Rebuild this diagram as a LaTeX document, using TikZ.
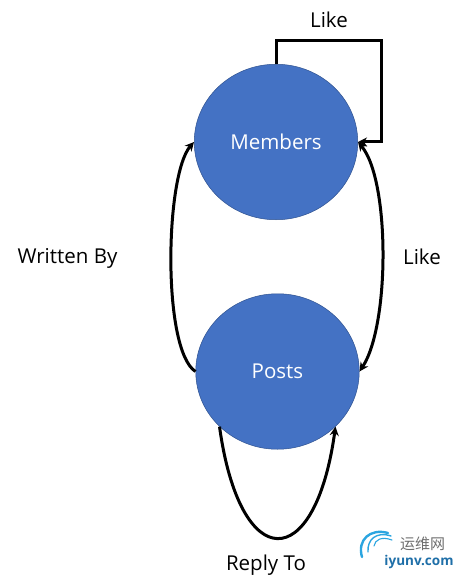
\documentclass[tikz,border=0pt]{standalone}
\usepackage{fontspec}
\setmainfont{Open Sans}
\newfontfamily\cjkfont{Noto Sans CJK SC}
\usetikzlibrary{arrows.meta,shapes.geometric}
\definecolor{fillblue}{HTML}{4472C4}
\definecolor{edgeblue}{HTML}{2F528F}
\definecolor{wmgray}{HTML}{6E6E6E}
\definecolor{wmblue}{HTML}{1F6FA8}
\definecolor{wmcyan}{HTML}{2BA5E0}
\tikzset{
  entity/.style={ellipse,draw=edgeblue,line width=0.5pt,fill=fillblue,text=white,inner sep=0pt,minimum width=163.5pt,minimum height=155.5pt,text depth=0pt,font=\fontsize{20.5}{24}\selectfont},
  lbl/.style={text=black,inner sep=0pt,anchor=base,font=\fontsize{20.5}{24}\selectfont},
  link/.style={draw=black,line width=3pt,-{Stealth[length=9pt,width=9pt]}},
  wave/.style={draw=wmcyan,line cap=round}
}
\begin{document}
\begin{tikzpicture}[x=1pt,y=-1pt]
\useasboundingbox (0,0) rectangle (462,577);
\node[entity] (m) at (276,142) {Members};
\node[entity] (p) at (277.5,371.5) {Posts};
\node[lbl] (l1) at (329,28) {Like};
\node[lbl] (l2) at (422,264) {Like};
\node[lbl] (l3) at (67.5,263) {Written By};
\node[lbl] (l4) at (266,570) {Reply To};
\draw[link] (m.north) -- (276,41) -- (381,41) -- (381,142) -- (m.east);
\draw[link] (p.west) .. controls (162,350) and (165,175) .. (m.west);
\draw[link,{Stealth[length=9pt,width=9pt]}-{Stealth[length=9pt,width=9pt]}] (m.east) .. controls (390,180) and (390,325) .. (p.east);
\draw[link] (p.south west) .. controls (240,575) and (315,575) .. (p.south east);
% watermark
\draw[wave,line width=2.4pt] (362,557) .. controls (357,540) and (370,528) .. (388,533);
\draw[wave,line width=1.4pt] (368,552) .. controls (367,540) and (376,531) .. (391,536);
\draw[wave,line width=1.1pt] (374,546) .. controls (375,540) and (381,536) .. (392,540);
\node[text=wmgray,inner sep=0pt,font=\cjkfont\fontsize{15}{17}\selectfont] (w1) at (422.5,543.5) {运维网};
\node[text=wmblue,inner sep=0pt,font=\bfseries\fontsize{13.5}{15}\selectfont] (w2) at (419,562) {iyunv.com};
\end{tikzpicture}
\end{document}
